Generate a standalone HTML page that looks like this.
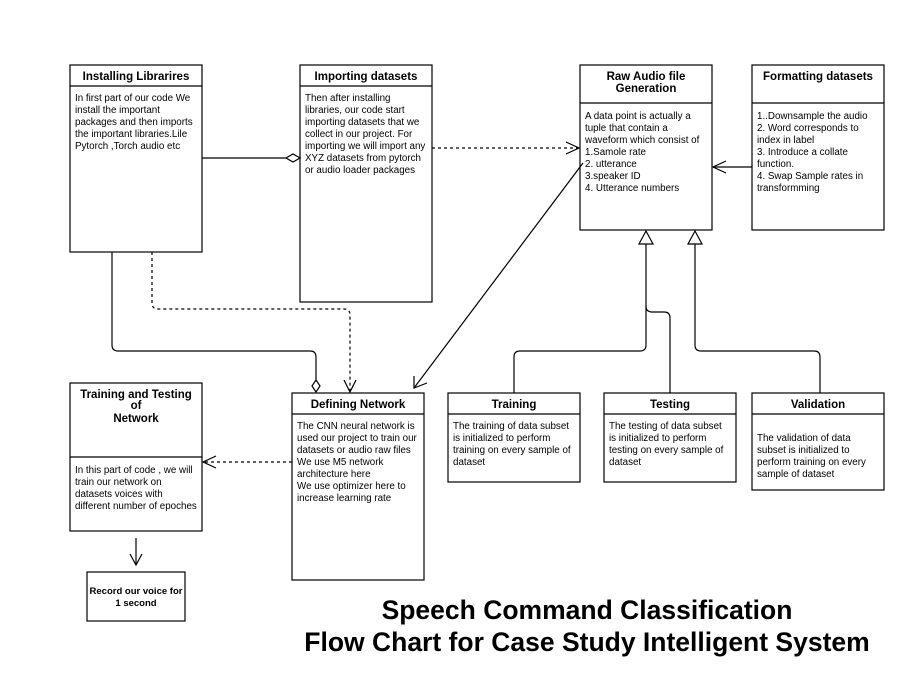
<!DOCTYPE html>
<html><head><style>
body{margin:0;background:#fff;}
svg text{font-family:"Liberation Sans",sans-serif;fill:#000;}
.h{font-weight:bold;font-size:11.5px;text-anchor:middle;}
.b{font-size:9.8px;}
</style></head><body>
<svg width="897" height="693" viewBox="0 0 897 693" xmlns="http://www.w3.org/2000/svg">
<g fill="none" stroke="#000" stroke-width="1.2">
<rect x="70" y="65" width="132" height="187"/><line x1="70" y1="86" x2="202" y2="86"/>
<rect x="300" y="65" width="132" height="237"/><line x1="300" y1="86" x2="432" y2="86"/>
<rect x="580" y="65" width="132" height="165"/><line x1="580" y1="103" x2="712" y2="103"/>
<rect x="752" y="65" width="132" height="165"/><line x1="752" y1="103" x2="884" y2="103"/>
<rect x="70" y="383" width="132" height="148"/><line x1="70" y1="457" x2="202" y2="457"/>
<rect x="292" y="393" width="132" height="187"/><line x1="292" y1="414" x2="424" y2="414"/>
<rect x="448" y="393" width="132" height="89"/><line x1="448" y1="414" x2="580" y2="414"/>
<rect x="604" y="393" width="132" height="89"/><line x1="604" y1="414" x2="736" y2="414"/>
<rect x="752" y="393" width="132" height="97"/><line x1="752" y1="414" x2="884" y2="414"/>
<rect x="87" y="572" width="98" height="49"/>
<line x1="202" y1="158" x2="286" y2="158"/>
<path d="M286 158 L293 154 L300 158 L293 162 Z" fill="#fff"/>
<line x1="432" y1="148" x2="578" y2="148" stroke-dasharray="3,3"/>
<path d="M566 142 L579 148 L566 154"/>
<line x1="752" y1="167" x2="714" y2="167"/>
<path d="M726 161 L713 167 L726 173"/>
<line x1="583" y1="163" x2="414" y2="388"/>
<path d="M414 376 L414 388 L427 383"/>
<path d="M514 393 V357 Q514 351 520 351 H640 Q646 351 646 345 V244"/>
<path d="M670 393 V318 Q670 312 664 312 H652 Q646 312 646 306"/>
<path d="M820 393 V357 Q820 351 814 351 H701 Q695 351 695 345 V244"/>
<path d="M646 231 L639 244 L653 244 Z" fill="#fff"/>
<path d="M695 231 L688 244 L702 244 Z" fill="#fff"/>
<path d="M112 252 V345 Q112 351 118 351 H310 Q316 351 316 357 V380"/>
<path d="M316 380 L312 386 L316 392 L320 386 Z" fill="#fff"/>
<path d="M152 252 V303 Q152 309 158 309 H344 Q350 309 350 315 V392" stroke-dasharray="3,3"/>
<path d="M344 380 L350 392 L356 380"/>
<line x1="292" y1="462" x2="204" y2="462" stroke-dasharray="3,3"/>
<path d="M216 456 L203 462 L216 468"/>
<line x1="136" y1="538" x2="136" y2="564"/>
<path d="M130 554 L136 565 L142 554"/>
</g>
<text class="h" x="136" y="80">Installing Librarires</text>
<text class="b"><tspan x="75" y="101">In first part of our code We</tspan><tspan x="75" y="113">install the important</tspan><tspan x="75" y="125">packages and then imports</tspan><tspan x="75" y="137">the important libraries.Lile</tspan><tspan x="75" y="149">Pytorch ,Torch audio etc</tspan></text>
<text class="h" x="366" y="80">Importing datasets</text>
<text class="b"><tspan x="305" y="101">Then after installing</tspan><tspan x="305" y="113">libraries, our code start</tspan><tspan x="305" y="125">importing datasets that we</tspan><tspan x="305" y="137">collect in our project. For</tspan><tspan x="305" y="149">importing we will import any</tspan><tspan x="305" y="161">XYZ datasets from pytorch</tspan><tspan x="305" y="173">or audio loader packages</tspan></text>
<text class="h"><tspan x="646" y="80">Raw Audio file</tspan><tspan x="646" y="92">Generation</tspan></text>
<text class="b"><tspan x="585" y="119">A data point is actually a</tspan><tspan x="585" y="131">tuple that contain a</tspan><tspan x="585" y="143">waveform which consist of</tspan><tspan x="585" y="155">1.Samole rate</tspan><tspan x="585" y="167">2. utterance</tspan><tspan x="585" y="179">3.speaker ID</tspan><tspan x="585" y="191">4. Utterance numbers</tspan></text>
<text class="h" x="818" y="80">Formatting datasets</text>
<text class="b"><tspan x="757" y="119">1..Downsample the audio</tspan><tspan x="757" y="131">2. Word corresponds to</tspan><tspan x="757" y="143">index in label</tspan><tspan x="757" y="155">3. Introduce a collate</tspan><tspan x="757" y="167">function.</tspan><tspan x="757" y="179">4. Swap Sample rates in</tspan><tspan x="757" y="191">transformming</tspan></text>
<text class="h"><tspan x="136" y="398">Training and Testing</tspan><tspan x="136" y="409">of</tspan><tspan x="136" y="422">Network</tspan></text>
<text class="b"><tspan x="75" y="473">In this part of code , we will</tspan><tspan x="75" y="485">train our network on</tspan><tspan x="75" y="497">datasets voices with</tspan><tspan x="75" y="509">different number of epoches</tspan></text>
<text class="h" x="358" y="408">Defining Network</text>
<text class="b"><tspan x="297" y="429">The CNN neural  network is</tspan><tspan x="297" y="441">used our project to train our</tspan><tspan x="297" y="453">datasets or audio raw files</tspan><tspan x="297" y="465">We use M5 network</tspan><tspan x="297" y="477">architecture here</tspan><tspan x="297" y="489">We use optimizer here to</tspan><tspan x="297" y="501">increase learning rate</tspan></text>
<text class="h" x="514" y="408">Training</text>
<text class="b"><tspan x="453" y="429">The training of data subset</tspan><tspan x="453" y="441">is initialized to perform</tspan><tspan x="453" y="453">training on every sample of</tspan><tspan x="453" y="465">dataset</tspan></text>
<text class="h" x="670" y="408">Testing</text>
<text class="b"><tspan x="609" y="429">The testing of data subset</tspan><tspan x="609" y="441">is initialized to perform</tspan><tspan x="609" y="453">testing on every sample of</tspan><tspan x="609" y="465">dataset</tspan></text>
<text class="h" x="818" y="408">Validation</text>
<text class="b"><tspan x="757" y="441">The validation of data</tspan><tspan x="757" y="453">subset is initialized to</tspan><tspan x="757" y="465">perform training on every</tspan><tspan x="757" y="477">sample of dataset</tspan></text>
<text class="h" style="font-size:9.5px"><tspan x="136" y="594">Record our voice for</tspan><tspan x="136" y="606">1 second</tspan></text>
<text style="font-weight:bold;font-size:26.5px;text-anchor:middle"><tspan x="587" y="619">Speech Command Classification</tspan><tspan x="587" y="651">Flow Chart for Case Study Intelligent System</tspan></text>
</svg>
</body></html>
